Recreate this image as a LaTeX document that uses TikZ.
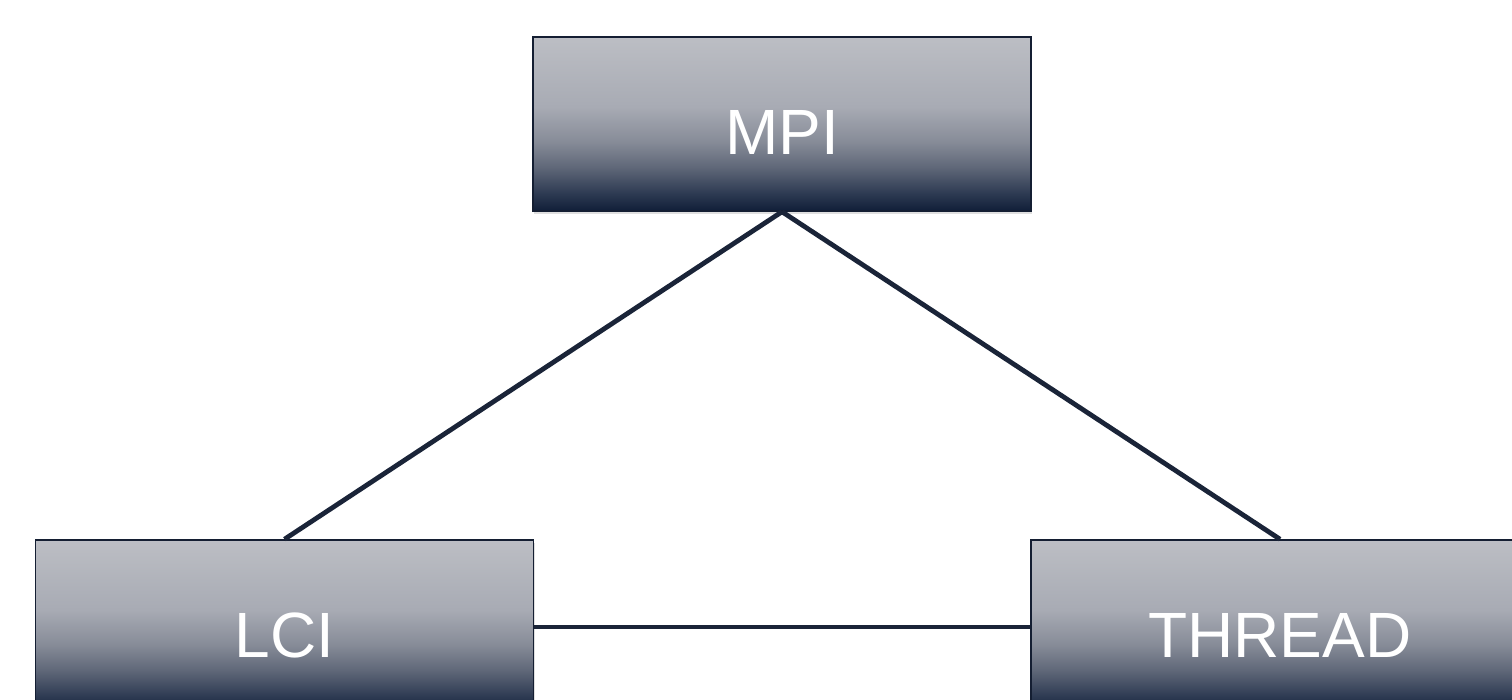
\documentclass[tikz,border=0pt]{standalone}
\usepackage{fontspec}
\setmainfont{Liberation Sans}
\usepackage{xcolor}
\usepackage{tikz}
\usetikzlibrary{shadows}
\definecolor{layeredge}{RGB}{20,30,50}
\definecolor{linkcol}{RGB}{26,36,56}
\definecolor{shA}{RGB}{16,30,56}
\definecolor{shB}{RGB}{45,58,82}
\definecolor{shC}{RGB}{95,103,120}
\definecolor{shD}{RGB}{135,140,152}
\definecolor{shE}{RGB}{168,171,180}
\definecolor{shF}{RGB}{188,190,196}
\pgfdeclareverticalshading{layershade}{100bp}{%
  color(0bp)=(shA); color(25bp)=(shA); color(30bp)=(shB);
  color(37.5bp)=(shC); color(45bp)=(shD); color(55bp)=(shE);
  color(75bp)=(shF); color(100bp)=(shF)}
\tikzset{
  layer/.style={rectangle, draw=layeredge, line width=1.5pt,
                shade, shading=layershade,
                minimum width=498pt, minimum height=174pt,
                font=\fontsize{64}{70}\selectfont, text=white,
                text height=62pt, text depth=0pt,
                drop shadow={shadow xshift=1pt, shadow yshift=-3pt,
                             opacity=0.25}},
  link/.style={line width=4.8pt, draw=linkcol},
}

\begin{document}
\begin{tikzpicture}[x=1pt, y=1pt]
\useasboundingbox (0,0) rectangle (1512,700);

% ── runtime layers ─────────────────────────────────────────
\node[layer] (mpi)    at (782,576)  {MPI};
\node[layer] (lci)    at (284.5,73) {LCI};
\node[layer] (thread) at (1280,73)  {THREAD};

% ── links between layers ───────────────────────────────────
\draw[link] (mpi.south) -- (lci.north);
\draw[link] (mpi.south) -- (thread.north);
\draw[link] (lci.east)  -- (thread.west);

\end{tikzpicture}
\end{document}
